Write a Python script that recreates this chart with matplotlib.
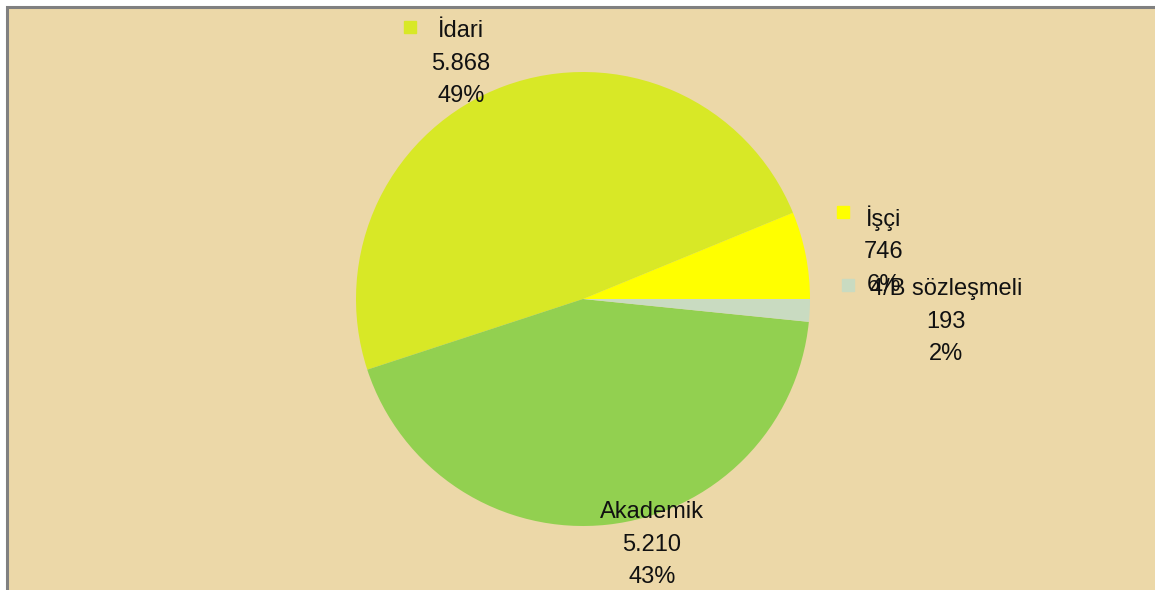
import matplotlib.pyplot as plt
from matplotlib.patches import Rectangle

# data
categories = ["İşçi", "İdari", "Akademik", "4/B sözleşmeli"]
values = [746, 5868, 5210, 193]
colors = ["#FFFF00", "#D8E826", "#92D050", "#C9DBC1"]

# label anchor (x, y of first line from top) and legend key square (if shown)
label_pos = [(884, 212), (461, 27), (652, 508), (946, 285)]
key_pos = [(843, 212), (410, 27), None, (848, 285)]

W, H = 1155, 590

fig = plt.figure(figsize=(W / 100, H / 100), dpi=100, facecolor="white")
ax = fig.add_axes([0, 0, 1, 1])

# parchment-like panel with grey frame
ax.add_patch(Rectangle((7, -20), W + 20, H - 7 + 20, facecolor="#ECD8A8",
                       edgecolor="#808080", linewidth=2.2, zorder=0))

ax.pie(values, colors=colors, startangle=0, counterclock=True,
       center=(583, H - 299), radius=227, frame=True,
       wedgeprops=dict(linewidth=0, zorder=1))
ax.set_xlim(0, W)
ax.set_ylim(0, H)
ax.axis("off")

total = sum(values)
for name, val, col, (lx, ly), kp in zip(categories, values, colors, label_pos, key_pos):
    pct = round(100 * val / total)
    txt = f"{name}\n{val:,}".replace(",", ".") + f"\n{pct}%"
    ax.text(lx, H - ly + 7, txt, ha="center", va="top", fontsize=17,
            family="Liberation Sans", linespacing=1.62, zorder=3,
            color="#111111")
    if kp is not None:
        ax.plot(kp[0], H - kp[1], marker="s", markersize=9, color=col,
                linestyle="none", zorder=3)

fig.savefig("out.png", dpi=100, facecolor=fig.get_facecolor())
